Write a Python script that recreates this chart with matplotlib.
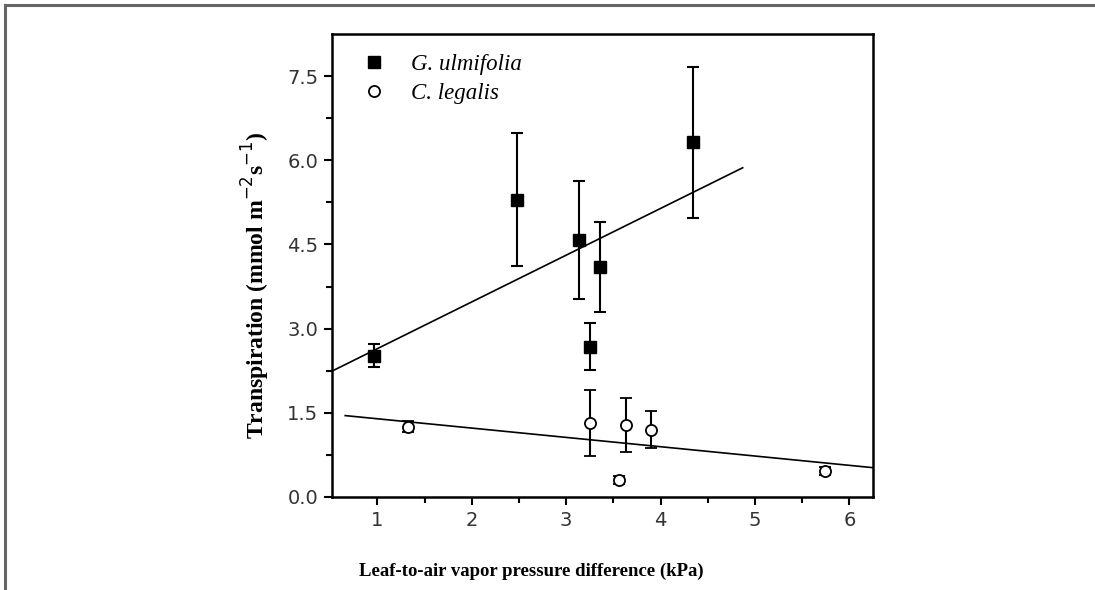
import matplotlib.pyplot as plt
from matplotlib.lines import Line2D
from matplotlib.patches import Rectangle

# G. ulmifolia (filled squares)
g_vpd = [0.97, 2.48, 3.14, 3.36, 3.25, 4.34]
g_tr = [2.52, 5.30, 4.58, 4.10, 2.68, 6.32]
g_err = [0.20, 1.18, 1.05, 0.80, 0.42, 1.35]

# C. legalis (open circles)
c_vpd = [1.33, 3.25, 3.63, 3.90, 3.56, 5.74]
c_tr = [1.25, 1.32, 1.28, 1.20, 0.30, 0.46]
c_err = [0.10, 0.59, 0.48, 0.33, 0.07, 0.07]

# regression lines: (x start, x end, intercept, slope)
g_fit = (0.50, 4.87, 1.81, 0.833)
c_fit = (0.66, 6.25, 1.56, -0.166)

serif = 'Liberation Serif'

fig = plt.figure(figsize=(10.95, 5.9), dpi=100)
ax = fig.add_axes([332 / 1095, 1 - 497 / 590, (873 - 332) / 1095, (497 - 34) / 590])

# outer frame of the figure
fig.patches.append(Rectangle((5 / 1095, -0.1), 1.2, (590 - 5) / 590 + 0.1,
                             transform=fig.transFigure, fill=False,
                             edgecolor='#666666', lw=2.2))

for fit in (g_fit, c_fit):
    x0, x1, b, m = fit
    ax.plot([x0, x1], [b + m * x0, b + m * x1], color='black', lw=1.2)

ax.errorbar(g_vpd, g_tr, yerr=g_err, fmt='s', color='black', ms=9,
            ecolor='black', elinewidth=1.5, capsize=4, capthick=1.5, zorder=3)
ax.errorbar(c_vpd, c_tr, yerr=c_err, fmt='o', mfc='white', mec='black', mew=1.3,
            ms=8, ecolor='black', elinewidth=1.5, capsize=4, capthick=1.5, zorder=3)

ax.set_xlim(0.52, 6.25)
ax.set_ylim(0, 8.25)
ax.set_xticks([1, 2, 3, 4, 5, 6])
ax.set_xticks([1.5, 2.5, 3.5, 4.5, 5.5], minor=True)
ax.set_yticks([0, 1.5, 3.0, 4.5, 6.0, 7.5])
ax.set_yticks([0.75, 2.25, 3.75, 5.25, 6.75], minor=True)
ax.set_yticklabels(['0.0', '1.5', '3.0', '4.5', '6.0', '7.5'])
ax.tick_params(direction='out', length=6, width=1.5, labelsize=14, colors='black',
               labelcolor='#333333', pad=4)
ax.tick_params(which='minor', direction='out', length=4, width=1.5)
for s in ax.spines.values():
    s.set_linewidth(1.8)

ax.set_xlabel('Leaf-to-air vapor pressure difference (kPa)', family=serif,
              fontweight='bold', fontsize=13.5)
ax.xaxis.set_label_coords((531 - 332) / 541, -(563 - 497) / 463)
ax.set_ylabel('Transpiration (mmol m$^{-2}$s$^{-1}$)', family=serif,
              fontweight='bold', fontsize=17)
ax.yaxis.set_label_coords(-(332 - 272) / 541, (497 - 285) / 463)

handles = [Line2D([], [], marker='s', color='black', ls='none', ms=9),
           Line2D([], [], marker='o', mfc='white', mec='black', mew=1.3, ls='none', ms=8)]
ax.legend(handles, ['G. ulmifolia', 'C. legalis'], loc='upper left', frameon=False,
          prop={'family': serif, 'style': 'italic', 'size': 16.5},
          bbox_to_anchor=(0.0, 1.0), handletextpad=0.6, labelspacing=0.35,
          borderaxespad=0.45)

fig.savefig('out.png', dpi=100)
